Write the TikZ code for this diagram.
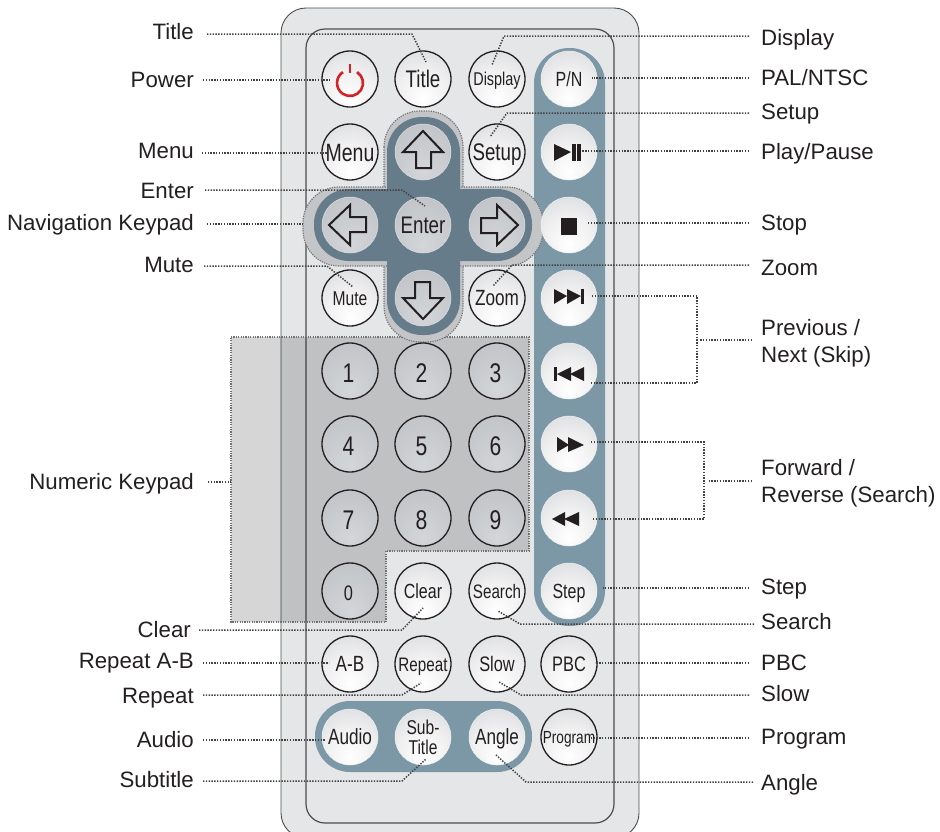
\documentclass[tikz,border=0pt]{standalone}
\usepackage{fontspec}
\setmainfont{Liberation Sans}
\newfontfamily\btnfont[FakeStretch=0.78]{Liberation Sans}
\usetikzlibrary{calc}
\definecolor{bodygray}{HTML}{E5E6E8}
\definecolor{edgegray}{HTML}{4D4D4F}
\definecolor{barblue}{HTML}{7C98A6}
\definecolor{navblue}{HTML}{667C8A}
\definecolor{halogray}{HTML}{C3C5C7}
\definecolor{inkblack}{HTML}{231F20}
\definecolor{powerred}{HTML}{D2232A}
\pgfdeclareradialshading{btnlight}{\pgfpoint{0bp}{-18bp}}{rgb(0bp)=(1,1,1); rgb(22bp)=(0.94,0.94,0.945); rgb(62bp)=(0.77,0.78,0.79); rgb(100bp)=(0.77,0.78,0.79)}
\pgfdeclareradialshading{btndark}{\pgfpoint{0bp}{-18bp}}{rgb(0bp)=(0.83,0.84,0.85); rgb(62bp)=(0.71,0.72,0.74); rgb(100bp)=(0.71,0.72,0.74)}
\tikzset{
	btnplain/.style={circle, minimum size=56pt, inner sep=0pt, draw=inkblack, line width=1.3pt, shading=btnlight, text=inkblack},
	btnbar/.style={circle, minimum size=56pt, inner sep=0pt, draw=white!85!barblue, line width=0.5pt, shading=btnlight, text=inkblack},
	btnnav/.style={circle, minimum size=56pt, inner sep=0pt, draw=white!75!navblue, line width=0.5pt, shading=btndark, text=inkblack},
	btnnum/.style={circle, minimum size=56pt, inner sep=0pt, draw=inkblack, line width=1.3pt, shading=btndark, text=inkblack},
	lblleft/.style={anchor=east, inner sep=0pt, text=inkblack, text height=16pt, text depth=7pt, font=\fontsize{22.25}{26}\selectfont},
	lblright/.style={anchor=west, inner sep=0pt, text=inkblack, text height=16pt, text depth=7pt, font=\fontsize{22.25}{26}\selectfont},
	lblpair/.style={anchor=west, inner sep=0pt, text=inkblack, align=left, font=\fontsize{22.25}{27}\selectfont},
	leader/.style={dash pattern=on 1.4pt off 1.4pt, line width=1.5pt, color=inkblack!85},
	halo/.style={fill=halogray, draw=black!55, line width=1.2pt, dash pattern=on 1.2pt off 1.2pt, rounded corners=36pt},
	cross/.style={fill=navblue, rounded corners=35pt},
	icon/.style={fill=inkblack},
}
\newcommand{\btn}[6] % style, name, x, y, font size, text
{
	\pgfmathsetlengthmacro\btnh{0.72*#5}
	\node[#1, font=\btnfont\fontsize{#5}{#5}\selectfont, text height=\btnh, text depth=0pt] (#2) at (#3,#4) {#6};
}
\newcommand{\digit}[1] % number sits low and left in its button
{\hspace*{-3pt}\raisebox{-2pt}{#1}}
\newcommand{\leadline}[5] % start anchor, offset, elbow, end node, offset
{
	\draw[leader] ($(#1)+(#2)$) #3 -- ($(#4)+(#5)$);
}
\newcommand{\arrowkey}[2] % button, rotation
{
	\draw[shift={(#1)}, rotate=#2, line width=2pt, draw=inkblack, line join=miter]
		(0,-21) -- (20,0) -- (8,0) -- (8,16) -- (-7,16) -- (-7,0) -- (-20,0) -- cycle;
}
\begin{document}
\begin{tikzpicture}[x=1pt, y=-1pt]
	\useasboundingbox (0,0) rectangle (940,831);
	\clip (0,0) rectangle (940,831);
	% remote body
	\draw[fill=bodygray, draw=edgegray, line width=0.9pt, rounded corners=25pt] (281,8) rectangle (639,838);
	\draw[draw=edgegray, line width=1.2pt, rounded corners=19pt] (306,29) rectangle (614,823);
	% numeric keypad
	\draw[fill=black, fill opacity=0.16, draw=black!55, line width=1.2pt, dash pattern=on 1.2pt off 1.2pt]
		(231,337) -- (529,337) -- (529,551) -- (386,551) -- (386,622) -- (231,622) -- cycle;
	\coordinate (numEdge) at (231,482);
	% blue bars
	\fill[barblue, rounded corners=35pt] (534,48) rectangle (605,626);
	\fill[barblue, rounded corners=35pt] (315,701) rectangle (532,772);
	% navigation cross
	\draw[halo] (384,111) rectangle (463,342);
	\draw[halo] (303,187) rectangle (543,266);
	\fill[cross] (387,117) rectangle (460,335);
	\fill[cross] (314,189) rectangle (532,261);
	\coordinate (navEdge) at (303,224);
	
	% buttons
	\btn{btnplain}{btnPower}{350}{79}{20}{};
	\btn{btnplain}{btnTitle}{423}{79}{24}{Title};
	\btn{btnplain}{btnDisplay}{497}{79}{18.5}{Display};
	\btn{btnbar}{btnPN}{569}{79}{20.5}{P/N};
	\btn{btnplain}{btnMenu}{350}{152}{25}{Menu};
	\btn{btnnav}{btnUp}{423}{152}{20}{};
	\btn{btnplain}{btnSetup}{497}{152}{24}{Setup};
	\btn{btnbar}{btnPlay}{569}{152}{20}{};
	\btn{btnnav}{btnLeft}{350}{225}{20}{};
	\btn{btnnav}{btnEnter}{423}{225}{24}{Enter};
	\btn{btnnav}{btnRight}{497}{225}{20}{};
	\btn{btnbar}{btnStop}{569}{225}{20}{};
	\btn{btnplain}{btnMute}{350}{298}{20}{Mute};
	\btn{btnnav}{btnDown}{423}{298}{20}{};
	\btn{btnplain}{btnZoom}{497}{298}{22}{Zoom};
	\btn{btnbar}{btnNext}{569}{298}{20}{};
	\btn{btnnum}{btnOne}{350}{371}{27}{\digit{1}};
	\btn{btnnum}{btnTwo}{423}{371}{27}{\digit{2}};
	\btn{btnnum}{btnThree}{497}{371}{27}{\digit{3}};
	\btn{btnbar}{btnPrev}{569}{371}{20}{};
	\btn{btnnum}{btnFour}{350}{444}{27}{\digit{4}};
	\btn{btnnum}{btnFive}{423}{444}{27}{\digit{5}};
	\btn{btnnum}{btnSix}{497}{444}{27}{\digit{6}};
	\btn{btnbar}{btnForward}{569}{444}{20}{};
	\btn{btnnum}{btnSeven}{350}{518}{27}{\digit{7}};
	\btn{btnnum}{btnEight}{423}{518}{27}{\digit{8}};
	\btn{btnnum}{btnNine}{497}{518}{27}{\digit{9}};
	\btn{btnbar}{btnReverse}{569}{518}{20}{};
	\btn{btnnum}{btnZero}{350}{591}{21}{\digit{0}};
	\btn{btnplain}{btnClear}{423}{591}{20.5}{Clear};
	\btn{btnplain}{btnSearch}{497}{591}{19.5}{Search};
	\btn{btnbar}{btnStep}{569}{591}{20.5}{Step};
	\btn{btnplain}{btnAB}{350}{664}{22}{A-B};
	\btn{btnplain}{btnRepeat}{423}{664}{19.5}{Repeat};
	\btn{btnplain}{btnSlow}{497}{664}{21}{Slow};
	\btn{btnplain}{btnPBC}{569}{664}{21}{PBC};
	\btn{btnbar}{btnAudio}{350}{737}{22}{Audio};
	\node[btnbar, font=\btnfont\fontsize{20}{20}\selectfont, align=center] (btnSub) at (423,737) {Sub-\\Title};
	\btn{btnbar}{btnAngle}{497}{737}{22}{Angle};
	\btn{btnplain}{btnProgram}{569}{737}{17.5}{Program};
	
	% button icons
	\draw[powerred, line width=2.6pt] ($(btnPower)+(7.1,-6.9)$) arc[start angle=-57, end angle=237, radius=13];
	\draw[powerred, line width=2.6pt] ($(btnPower)+(0,-15)$) -- ($(btnPower)+(0,-6)$);
	\arrowkey{btnUp}{0};
	\arrowkey{btnLeft}{90};
	\arrowkey{btnRight}{-90};
	\arrowkey{btnDown}{180};
	% play and pause
	\begin{scope}[shift={(btnPlay)}]
		\fill[icon] (-15,-8) -- (-15,9) -- (2,0) -- cycle;
		\fill[icon] (2.5,-8) rectangle (6.5,9);
		\fill[icon] (8.3,-8) rectangle (11.7,9);
	\end{scope}
	\fill[icon] ($(btnStop)+(-8,-7)$) rectangle ($(btnStop)+(8,9.5)$);
	% next
	\begin{scope}[shift={(btnNext)}]
		\fill[icon] (-15,-9) -- (-15,6) -- (-2,-2) -- cycle;
		\fill[icon] (-2,-9) -- (-2,6) -- (12,-2) -- cycle;
		\fill[icon] (12,-9) rectangle (15,6);
	\end{scope}
	% previous
	\begin{scope}[shift={(btnPrev)}]
		\fill[icon] (-15,-4) rectangle (-12,10);
		\fill[icon] (2,-4) -- (2,10) -- (-12,3) -- cycle;
		\fill[icon] (15,-4) -- (15,10) -- (1,3) -- cycle;
	\end{scope}
	% forward
	\begin{scope}[shift={(btnForward)}]
		\fill[icon] (-12,-7) -- (-12,8) -- (0,1) -- cycle;
		\fill[icon] (-1,-7) -- (-1,8) -- (15,1) -- cycle;
	\end{scope}
	% reverse
	\begin{scope}[shift={(btnReverse)}]
		\fill[icon] (-4,-6) -- (-4,8) -- (-17,1) -- cycle;
		\fill[icon] (10,-6) -- (10,8) -- (-5,1) -- cycle;
	\end{scope}
	
	% left labels
	\node[lblleft] (lTitle) at (194,34.5) {Title};
	\node[lblleft] (lPower) at (194,82.5) {Power};
	\node[lblleft] (lMenu) at (194,153.5) {Menu};
	\node[lblleft] (lEnter) at (194,193.5) {Enter};
	\node[lblleft] (lNav) at (194,225.5) {Navigation Keypad};
	\node[lblleft] (lMute) at (194,267.5) {Mute};
	\node[lblleft] (lNumeric) at (194,484.5) {Numeric Keypad};
	\node[lblleft] (lClear) at (191,632.5) {Clear};
	\node[lblleft] (lRepeatAB) at (194,663.5) {Repeat A-B};
	\node[lblleft] (lRepeat) at (194,698.5) {Repeat};
	\node[lblleft] (lAudio) at (194,742.5) {Audio};
	\node[lblleft] (lSubtitle) at (194,782.5) {Subtitle};
	% right labels
	\node[lblright] (lDisplay) at (761,40.5) {Display};
	\node[lblright] (lPal) at (761,80.5) {PAL/NTSC};
	\node[lblright] (lSetup) at (761,114.5) {Setup};
	\node[lblright] (lPlay) at (761,154.5) {Play/Pause};
	\node[lblright] (lStop) at (761,225.5) {Stop};
	\node[lblright] (lZoom) at (761,270.5) {Zoom};
	\node[lblpair] (lSkip) at (761,343.5) {Previous /\\Next (Skip)};
	\node[lblpair] (lForward) at (761,483.5) {Forward /\\Reverse (Search)};
	\node[lblright] (lStep) at (761,589.5) {Step};
	\node[lblright] (lSearch) at (761,624.5) {Search};
	\node[lblright] (lPBC) at (761,665.5) {PBC};
	\node[lblright] (lSlow) at (761,696.5) {Slow};
	\node[lblright] (lProgram) at (761,739.5) {Program};
	\node[lblright] (lAngle) at (761,785.5) {Angle};
	
	% left leaders
	\leadline{lTitle.east}{13,-0.5}{-- ++(205,0)}{btnTitle}{3,-17};
	\leadline{lPower.east}{9,-2.5}{}{btnPower}{-20,1};
	\leadline{lMenu.east}{8,-0.5}{}{btnMenu}{-23,1};
	\leadline{lEnter.east}{11,-3.5}{-- ++(197,0)}{btnEnter}{2,-19};
	\leadline{lNav.east}{13,-1.5}{}{navEdge}{0,0};
	\leadline{lMute.east}{10,-1.5}{-- ++(123,0)}{btnMute}{3,-11};
	\leadline{lNumeric.east}{14,-2.5}{}{numEdge}{0,0};
	\leadline{lClear.east}{8,-2.5}{-- ++(203,0)}{btnClear}{0,17};
	\leadline{lRepeatAB.east}{9,-0.5}{}{btnAB}{-21,-1};
	\leadline{lRepeat.east}{9,-3.5}{-- ++(199,0)}{btnRepeat}{-2,19};
	\leadline{lAudio.east}{9,-2.5}{}{btnAudio}{-25,3};
	\leadline{lSubtitle.east}{9,-1.5}{-- ++(199,0)}{btnSub}{3,22};
	% right leaders
	\leadline{lDisplay.west}{-12,-4.5}{-- ++(-245,0)}{btnDisplay}{-5,-14};
	\leadline{lPal.west}{-12,-2.5}{}{btnPN}{23,-1};
	\leadline{lSetup.west}{-12,-1.5}{-- ++(-242,0)}{btnSetup}{-7,-15};
	\leadline{lPlay.west}{-12,-3.5}{}{btnPlay}{13,-1};
	\leadline{lStop.west}{-12,-2.5}{}{btnStop}{18,-2};
	\leadline{lZoom.west}{-12,-5.5}{-- ++(-237,0)}{btnZoom}{-4,-12};
	\leadline{lStep.west}{-12,-1.5}{}{btnStep}{34,-3};
	\leadline{lSearch.west}{-7,-0.5}{-- ++(-234,0)}{btnSearch}{1,20};
	\leadline{lPBC.west}{-12,-2.5}{}{btnPBC}{26,-1};
	\leadline{lSlow.west}{-12,-1.5}{-- ++(-228,0)}{btnSlow}{2,18};
	\leadline{lProgram.west}{-12,-1.5}{}{btnProgram}{22,1};
	\leadline{lAngle.west}{-8,-3.5}{-- ++(-227,0)}{btnAngle}{-1,18};
	% brackets
	\leadline{lSkip.west}{-9,-3.5}{}{lSkip.west}{-61,-3.5};
	\leadline{btnNext}{23,-2}{-- ++(105,0) -- ++(0,87)}{btnPrev}{22,12};
	\leadline{lForward.west}{-9,-2.5}{}{lForward.west}{-53,-2.5};
	\leadline{btnForward}{22,-2}{-- ++(113,0) -- ++(0,77)}{btnReverse}{23,1};
\end{tikzpicture}
\end{document}
